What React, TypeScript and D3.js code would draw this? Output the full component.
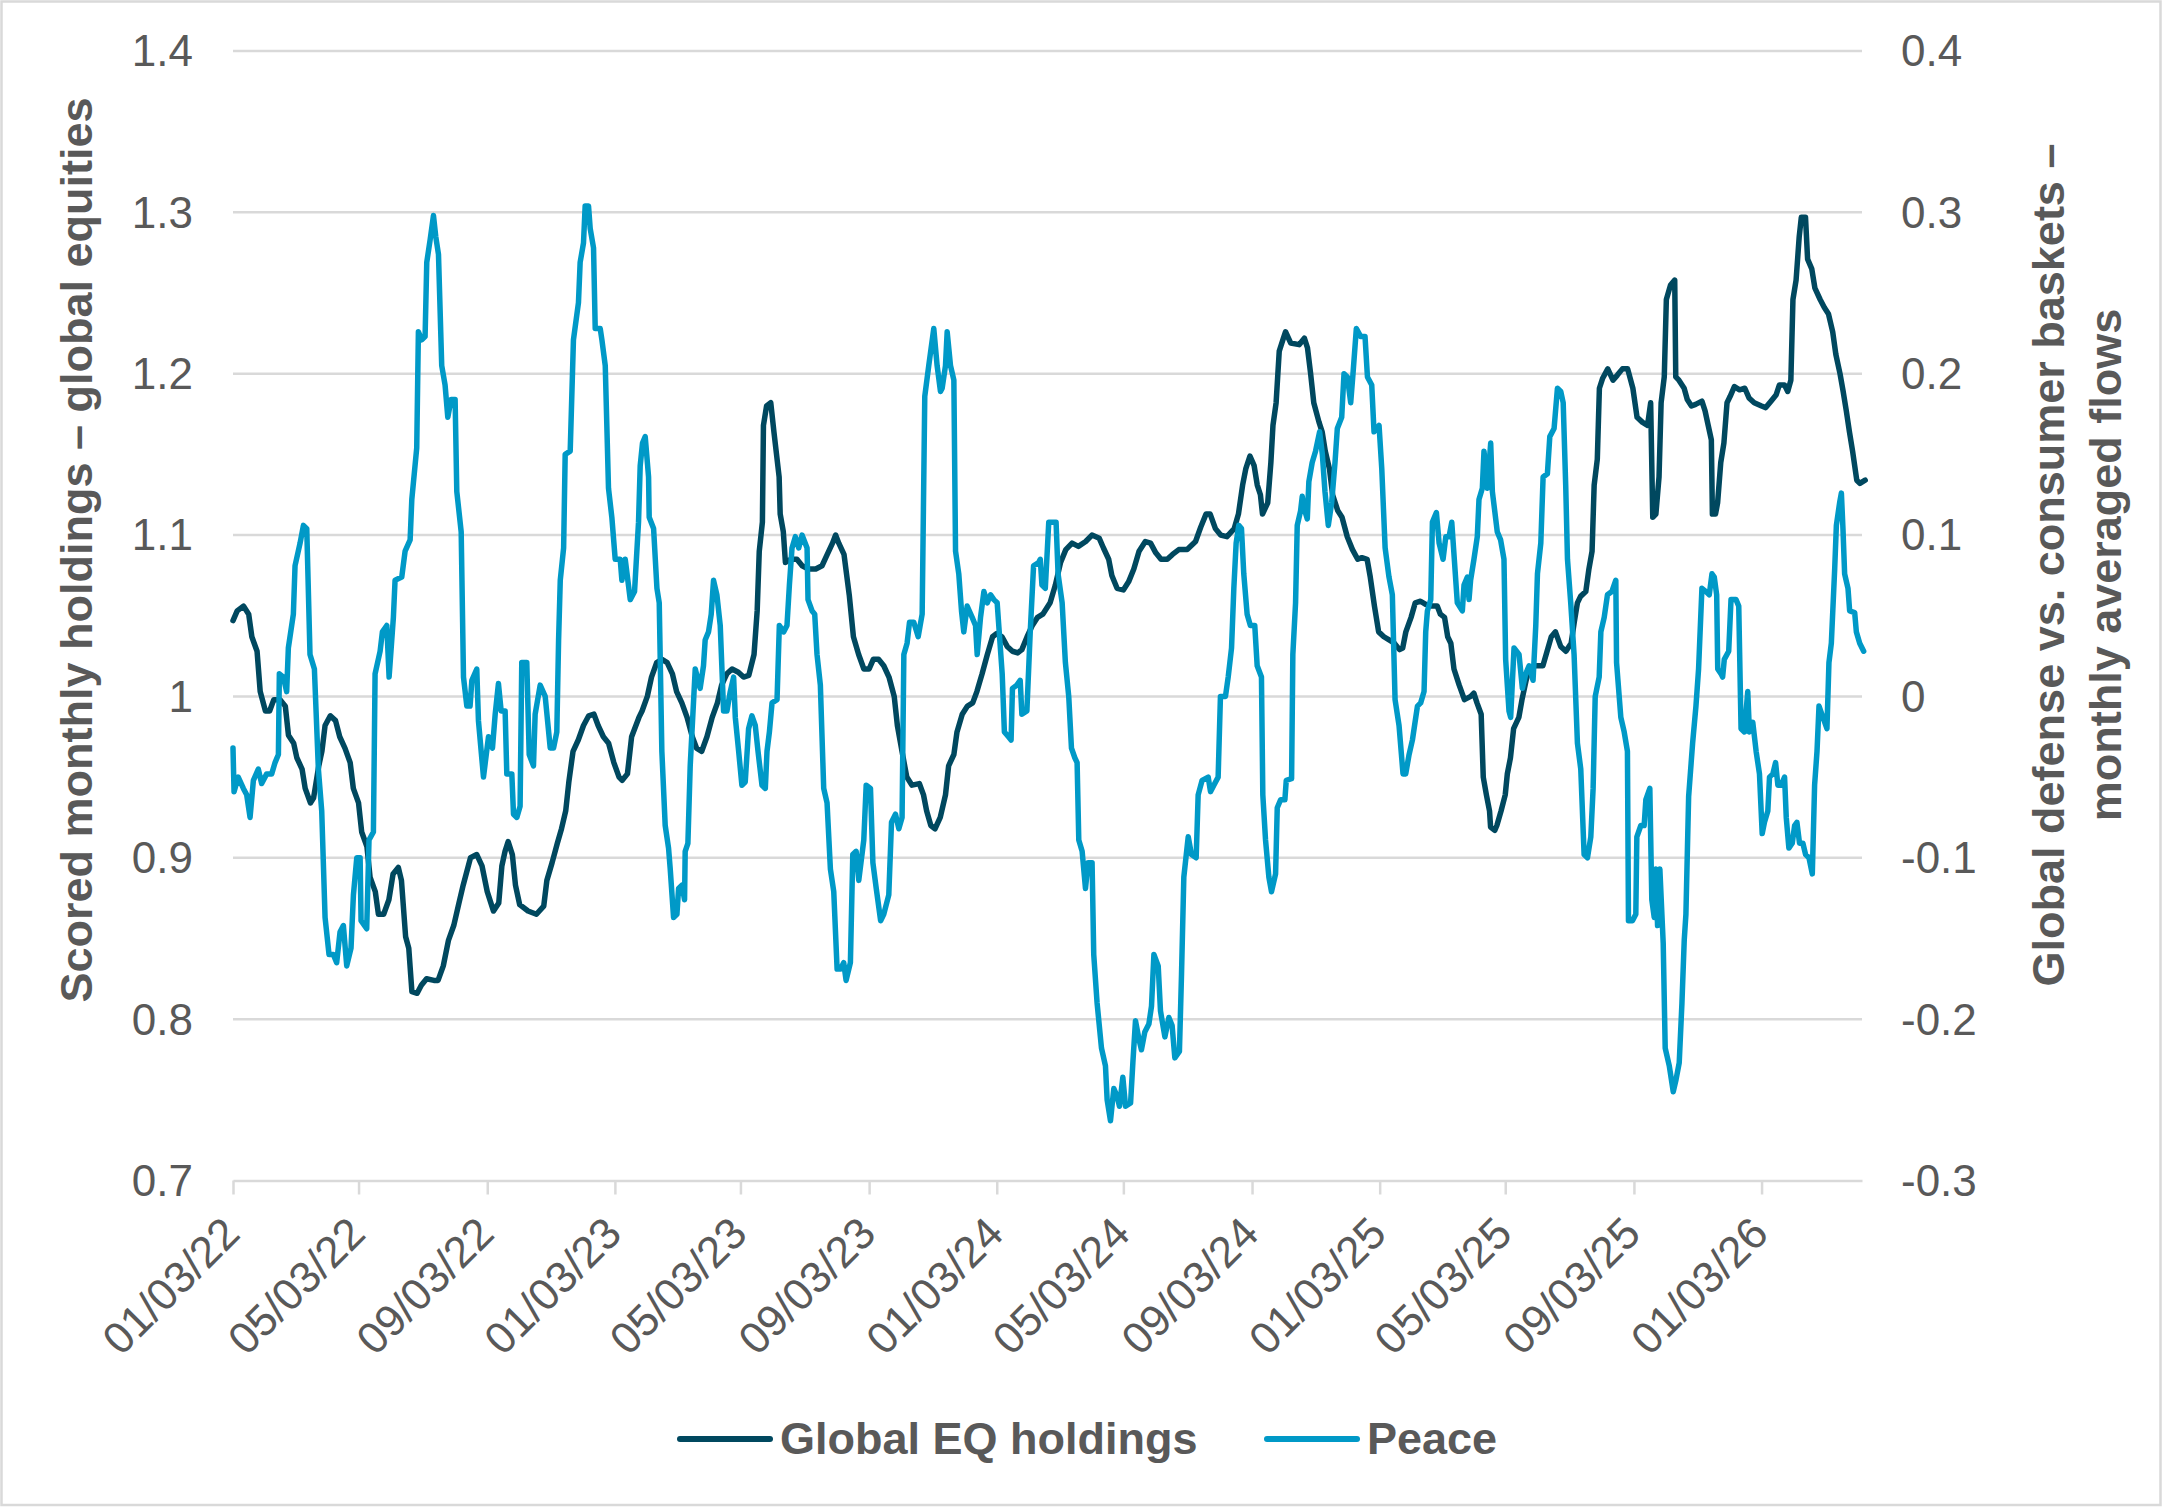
import * as d3 from "d3";
import { useEffect, useRef } from "react";

// days since 01/03/22 and value
const eqPoints: [number, number][] = [
  [0, 1.047], [4, 1.053], [10, 1.056], [15, 1.051], [18, 1.037], [23, 1.028], [26, 1.003], [31, 0.991], [35, 0.991], [39, 0.998],
  [45, 0.998], [50, 0.994], [53, 0.976], [58, 0.971], [61, 0.962], [66, 0.955], [69, 0.943], [74, 0.934], [77, 0.937], [82, 0.957],
  [85, 0.966], [88, 0.982], [93, 0.988], [98, 0.985], [102, 0.975], [107, 0.968], [112, 0.959], [115, 0.943], [120, 0.934], [123, 0.916],
  [128, 0.907], [131, 0.888], [136, 0.879], [139, 0.865], [144, 0.865], [149, 0.874], [153, 0.89], [158, 0.894], [161, 0.886], [165, 0.851],
  [168, 0.844], [171, 0.817], [176, 0.816], [180, 0.821], [185, 0.825], [192, 0.824], [196, 0.824], [201, 0.833], [206, 0.849], [211, 0.858],
  [216, 0.872], [220, 0.883], [227, 0.9], [233, 0.902], [238, 0.895], [243, 0.879], [249, 0.867], [254, 0.872], [257, 0.895], [260, 0.904],
  [263, 0.91], [267, 0.902], [270, 0.883], [274, 0.871], [282, 0.867], [290, 0.865], [297, 0.87], [300, 0.886], [305, 0.897], [310, 0.909],
  [314, 0.918], [318, 0.929], [321, 0.947], [325, 0.966], [330, 0.973], [335, 0.982], [340, 0.988], [345, 0.989], [349, 0.982], [354, 0.975],
  [359, 0.971], [364, 0.959], [369, 0.95], [372, 0.948], [377, 0.952], [381, 0.975], [388, 0.987], [391, 0.991], [396, 1.0], [400, 1.012],
  [405, 1.021], [410, 1.023], [415, 1.021], [420, 1.014], [424, 1.003], [429, 0.996], [434, 0.987], [439, 0.975], [443, 0.968], [448, 0.966],
  [453, 0.975], [458, 0.987], [463, 0.996], [467, 1.007], [472, 1.014], [477, 1.017], [483, 1.015], [488, 1.012], [493, 1.013], [498, 1.026],
  [501, 1.053], [503, 1.09], [506, 1.108], [507, 1.168], [510, 1.18], [514, 1.182], [517, 1.164], [522, 1.136], [523, 1.113], [526, 1.102],
  [528, 1.083], [533, 1.085], [539, 1.085], [544, 1.081], [550, 1.079], [557, 1.079], [563, 1.081], [568, 1.088], [573, 1.095], [576, 1.1],
  [579, 1.095], [584, 1.088], [589, 1.063], [593, 1.037], [598, 1.026], [603, 1.017], [608, 1.017], [612, 1.023], [617, 1.023], [622, 1.019],
  [627, 1.012], [632, 1.0], [635, 0.982], [640, 0.964], [644, 0.95], [649, 0.945], [656, 0.946], [660, 0.939], [663, 0.929], [667, 0.92],
  [671, 0.918], [676, 0.925], [681, 0.939], [684, 0.957], [689, 0.964], [692, 0.978], [697, 0.989], [702, 0.994], [707, 0.996], [711, 1.003],
  [716, 1.014], [721, 1.026], [726, 1.037], [730, 1.039], [735, 1.037], [740, 1.031], [745, 1.028], [750, 1.027], [754, 1.029], [759, 1.037],
  [764, 1.044], [769, 1.049], [774, 1.051], [781, 1.058], [786, 1.069], [791, 1.083], [796, 1.091], [802, 1.095], [808, 1.093], [815, 1.096],
  [821, 1.1], [828, 1.098], [832, 1.092], [837, 1.085], [840, 1.075], [845, 1.067], [851, 1.066], [856, 1.071], [861, 1.079], [866, 1.09],
  [872, 1.096], [877, 1.095], [882, 1.089], [887, 1.085], [893, 1.085], [898, 1.088], [904, 1.091], [912, 1.091], [920, 1.096], [925, 1.105],
  [930, 1.113], [934, 1.113], [939, 1.104], [944, 1.1], [950, 1.099], [957, 1.104], [961, 1.113], [965, 1.131], [968, 1.141], [972, 1.149],
  [976, 1.143], [979, 1.131], [982, 1.125], [984, 1.113], [989, 1.12], [992, 1.145], [994, 1.168], [997, 1.182], [1000, 1.214], [1004, 1.222],
  [1006, 1.226], [1011, 1.219], [1019, 1.218], [1024, 1.222], [1027, 1.216], [1030, 1.2], [1033, 1.182], [1038, 1.17], [1041, 1.164], [1044, 1.152],
  [1048, 1.141], [1051, 1.125], [1056, 1.115], [1060, 1.111], [1065, 1.099], [1070, 1.091], [1075, 1.085], [1079, 1.086], [1084, 1.085], [1087, 1.074],
  [1091, 1.056], [1095, 1.04], [1100, 1.037], [1105, 1.035], [1110, 1.033], [1115, 1.029], [1118, 1.03], [1121, 1.04], [1126, 1.049], [1130, 1.058],
  [1135, 1.059], [1140, 1.057], [1146, 1.056], [1151, 1.056], [1154, 1.051], [1158, 1.049], [1161, 1.037], [1164, 1.033], [1167, 1.017], [1172, 1.007],
  [1177, 0.998], [1183, 1.0], [1186, 1.002], [1189, 0.996], [1193, 0.989], [1195, 0.95], [1198, 0.939], [1201, 0.929], [1202, 0.919], [1206, 0.917],
  [1208, 0.92], [1212, 0.929], [1216, 0.939], [1218, 0.952], [1221, 0.962], [1224, 0.98], [1229, 0.987], [1232, 0.998], [1236, 1.01], [1239, 1.017],
  [1245, 1.019], [1252, 1.019], [1256, 1.028], [1260, 1.037], [1264, 1.04], [1269, 1.031], [1274, 1.028], [1279, 1.033], [1282, 1.046], [1285, 1.058],
  [1288, 1.062], [1293, 1.065], [1296, 1.079], [1299, 1.09], [1301, 1.131], [1304, 1.147], [1306, 1.191], [1309, 1.197], [1314, 1.203], [1319, 1.196],
  [1323, 1.199], [1328, 1.203], [1333, 1.203], [1338, 1.191], [1342, 1.173], [1347, 1.17], [1352, 1.168], [1355, 1.182], [1357, 1.111], [1360, 1.113],
  [1363, 1.136], [1365, 1.182], [1368, 1.198], [1370, 1.246], [1374, 1.255], [1378, 1.258], [1379, 1.198], [1382, 1.196], [1387, 1.191], [1390, 1.184],
  [1394, 1.18], [1398, 1.181], [1404, 1.183], [1407, 1.177], [1410, 1.168], [1413, 1.159], [1414, 1.113], [1417, 1.113], [1419, 1.12], [1422, 1.145],
  [1425, 1.157], [1428, 1.182], [1431, 1.186], [1435, 1.192], [1440, 1.19], [1445, 1.191], [1449, 1.185], [1454, 1.182], [1461, 1.18], [1465, 1.179],
  [1470, 1.183], [1475, 1.187], [1478, 1.193], [1483, 1.193], [1486, 1.189], [1489, 1.196], [1491, 1.246], [1494, 1.258], [1497, 1.285], [1499, 1.297],
  [1503, 1.297], [1505, 1.271], [1509, 1.265], [1512, 1.253], [1517, 1.246], [1521, 1.241], [1525, 1.237], [1529, 1.226], [1532, 1.212], [1536, 1.2],
  [1539, 1.189], [1542, 1.177], [1545, 1.164], [1548, 1.152], [1552, 1.134], [1555, 1.132], [1560, 1.134],
];

const peacePoints: [number, number][] = [
  [0, -0.032], [1, -0.059], [5, -0.05], [9.9, -0.057], [13.1, -0.061], [16.3, -0.075], [19.5, -0.052], [24.2, -0.045], [27.4, -0.054], [32.2, -0.048],
  [37, -0.048], [40.2, -0.041], [43.4, -0.036], [44.3, 0.014], [48.1, 0.012], [51.3, 0.003], [52.9, 0.03], [57.7, 0.051], [59.3, 0.081], [64.1, 0.095],
  [67.3, 0.106], [70.5, 0.104], [73.6, 0.026], [77.8, 0.017], [81.6, -0.045], [84.8, -0.071], [88, -0.137], [91.8, -0.16], [96, -0.16], [99.1, -0.165],
  [102.3, -0.146], [105.5, -0.142], [108.7, -0.167], [112.8, -0.156], [115.1, -0.123], [118.3, -0.1], [121.5, -0.1], [122.4, -0.139], [127.8, -0.144], [130, -0.089],
  [134.2, -0.084], [135.8, 0.014], [140.6, 0.028], [142.8, 0.04], [147, 0.044], [149.2, 0.012], [153.3, 0.049], [154.9, 0.072], [161.3, 0.074], [164.5, 0.09],
  [169.3, 0.097], [170.9, 0.122], [175.6, 0.154], [177.2, 0.226], [180.4, 0.221], [183.6, 0.223], [185.2, 0.269], [188.4, 0.283], [191.6, 0.298], [193.8, 0.285],
  [196.4, 0.274], [199.5, 0.205], [202.7, 0.193], [205.3, 0.173], [208.5, 0.184], [212.3, 0.184], [213.9, 0.127], [218.1, 0.102], [220.3, 0.012], [223.5, -0.006],
  [226.6, -0.006], [228.3, 0.01], [233, 0.017], [234.6, -0.015], [239.4, -0.05], [244.2, -0.025], [248, -0.032], [250.6, -0.011], [253.7, 0.008], [256.3, -0.009],
  [260.1, -0.009], [261.7, -0.048], [266.5, -0.048], [268.1, -0.073], [271.3, -0.075], [274.4, -0.068], [276, 0.021], [280.8, 0.021], [283.1, -0.036], [287.2, -0.043],
  [288.8, -0.011], [293.6, 0.007], [298.4, 0.0], [303.2, -0.032], [306.4, -0.032], [309.5, -0.022], [311.2, 0.035], [312.8, 0.072], [316, 0.092], [317.5, 0.15],
  [322.3, 0.152], [325.4, 0.221], [330.2, 0.244], [331.8, 0.269], [335, 0.281], [336.6, 0.304], [339.8, 0.304], [341.4, 0.29], [344.6, 0.278], [346.2, 0.228],
  [351, 0.228], [352.6, 0.221], [355.8, 0.205], [358.9, 0.129], [362.1, 0.111], [365.3, 0.085], [370.1, 0.085], [371.7, 0.072], [374.9, 0.085], [379.7, 0.06],
  [383.8, 0.065], [387.6, 0.108], [389.2, 0.143], [391.4, 0.157], [394, 0.161], [397.2, 0.136], [397.8, 0.111], [402, 0.104], [405.2, 0.067], [407.4, 0.058],
  [409.9, -0.034], [413.1, -0.08], [416.3, -0.094], [417.9, -0.107], [421.1, -0.137], [424.3, -0.135], [425.9, -0.119], [429.1, -0.117], [431.6, -0.126], [432.2, -0.096],
  [434.8, -0.091], [437, -0.043], [441.8, 0.017], [446.5, 0.005], [449.7, 0.019], [451.3, 0.035], [454.5, 0.04], [457.1, 0.051], [459.3, 0.072], [462.5, 0.063],
  [465.7, 0.044], [468.9, -0.009], [472.1, -0.009], [475.3, 0.003], [478.5, 0.012], [480.1, -0.013], [483.3, -0.034], [486.4, -0.055], [489.6, -0.053], [492.8, -0.02],
  [496, -0.012], [499.2, -0.018], [501.8, -0.034], [505.6, -0.055], [508.8, -0.057], [510.4, -0.034], [512.7, -0.022], [515.2, -0.004], [520, -0.002], [522.2, 0.044],
  [526.3, 0.04], [529.5, 0.044], [531.8, 0.069], [534.3, 0.092], [537.5, 0.099], [540.7, 0.092], [543.9, 0.1], [548.7, 0.092], [549.6, 0.06], [553.5, 0.053],
  [556, 0.051], [558.2, 0.026], [561.4, 0.007], [564.6, -0.057], [567.8, -0.066], [571, -0.107], [574.2, -0.121], [577.4, -0.169], [580.6, -0.169], [583.7, -0.165],
  [586, -0.176], [590.1, -0.165], [592.4, -0.098], [595.6, -0.096], [598.1, -0.114], [602.9, -0.089], [605.2, -0.055], [609.3, -0.057], [611.6, -0.103], [614.8, -0.119],
  [619, -0.139], [622, -0.135], [626.8, -0.123], [629.4, -0.078], [633.2, -0.073], [636.4, -0.082], [639.5, -0.075], [641.2, 0.026], [644.3, 0.033], [646.6, 0.046],
  [650.7, 0.046], [654.9, 0.037], [658.7, 0.051], [661.2, 0.186], [665, 0.205], [669.8, 0.228], [673, 0.205], [676.2, 0.189], [677.8, 0.191], [681, 0.205],
  [682.6, 0.226], [685.8, 0.205], [689, 0.196], [690.6, 0.09], [693.7, 0.076], [696.3, 0.053], [698.5, 0.04], [701.7, 0.056], [706.5, 0.049], [709.7, 0.044],
  [711.3, 0.026], [714.5, 0.049], [717.7, 0.065], [720.9, 0.058], [724.1, 0.063], [727.2, 0.06], [730.4, 0.058], [735.2, 0.014], [737.3, -0.022], [741.2, -0.025],
  [743.7, -0.027], [745, 0.005], [749.2, 0.007], [752.4, 0.01], [754, -0.011], [758.8, -0.009], [762, 0.04], [765.2, 0.081], [770, 0.083], [771.6, 0.085],
  [773.2, 0.069], [776.4, 0.067], [779.7, 0.108], [786.7, 0.108], [788.6, 0.076], [792.5, 0.058], [795.6, 0.021], [798.8, 0.0], [801.4, -0.032], [804.6, -0.038],
  [806.8, -0.041], [808.4, -0.089], [811.6, -0.096], [814.8, -0.119], [817.3, -0.103], [821.1, -0.103], [822.7, -0.16], [825.9, -0.19], [830.1, -0.218], [833.9, -0.229],
  [835.5, -0.25], [838.7, -0.263], [841.9, -0.243], [845.1, -0.248], [847.3, -0.254], [850.5, -0.236], [853.1, -0.254], [857.9, -0.252], [860.1, -0.227], [862.6, -0.201],
  [865.8, -0.212], [868.3, -0.219], [871.5, -0.208], [875.4, -0.203], [877.9, -0.192], [880.2, -0.16], [884.3, -0.167], [886.5, -0.195], [890.7, -0.211], [894.5, -0.199],
  [897.6, -0.204], [900.2, -0.224], [904.6, -0.22], [906.6, -0.172], [908.8, -0.112], [913, -0.087], [916.1, -0.098], [920.6, -0.1], [922.5, -0.061], [926.3, -0.052],
  [932.1, -0.05], [934.3, -0.059], [937.5, -0.055], [941.6, -0.05], [943.8, 0.0], [948.6, 0.0], [951.2, 0.012], [954.4, 0.03], [956.6, 0.067], [958.8, 0.095],
  [961.3, 0.106], [963.9, 0.104], [966.1, 0.076], [969.3, 0.051], [972.4, 0.044], [976.6, 0.044], [978.9, 0.019], [983, 0.012], [984.3, -0.061], [986.9, -0.089],
  [990.1, -0.112], [992.6, -0.121], [996.5, -0.11], [998.1, -0.069], [1001.3, -0.064], [1005.4, -0.064], [1006.7, -0.052], [1011.8, -0.051], [1013, 0.026], [1015.6, 0.058],
  [1017.2, 0.106], [1020.4, 0.115], [1022, 0.124], [1023.6, 0.117], [1026.8, 0.11], [1028.3, 0.133], [1031.5, 0.145], [1034.7, 0.152], [1038.6, 0.164], [1041.2, 0.15],
  [1043.7, 0.127], [1046.9, 0.106], [1050.1, 0.12], [1053.3, 0.145], [1055.5, 0.166], [1059.7, 0.173], [1061.9, 0.2], [1065.1, 0.198], [1068.3, 0.182], [1070.5, 0.2],
  [1073.7, 0.228], [1077.9, 0.223], [1082, 0.223], [1084.3, 0.198], [1088.4, 0.193], [1090.6, 0.164], [1095.4, 0.168], [1098, 0.141], [1101.2, 0.092], [1104.9, 0.074],
  [1108.1, 0.063], [1110.7, -0.002], [1114.5, -0.018], [1118.3, -0.048], [1120.9, -0.048], [1124.1, -0.036], [1127.3, -0.027], [1129.8, -0.016], [1132.1, -0.006], [1135.2, -0.004],
  [1138.4, 0.003], [1140, 0.04], [1141.6, 0.053], [1144.8, 0.06], [1146.4, 0.108], [1150.2, 0.114], [1152.8, 0.095], [1156.6, 0.085], [1159.2, 0.099], [1162.3, 0.099],
  [1164.9, 0.108], [1170.2, 0.058], [1175, 0.053], [1176.6, 0.069], [1179.8, 0.074], [1181.4, 0.06], [1182.9, 0.072], [1186.1, 0.085], [1189.3, 0.099], [1190.9, 0.122],
  [1194.1, 0.129], [1195.7, 0.152], [1198.9, 0.129], [1202.1, 0.157], [1203.7, 0.127], [1208.4, 0.102], [1211.6, 0.097], [1214.8, 0.085], [1216.4, 0.023], [1219.6, -0.009],
  [1221.2, -0.013], [1224.4, 0.03], [1229.2, 0.026], [1232.4, 0.005], [1235.6, 0.014], [1238.8, 0.019], [1242.6, 0.01], [1245.2, 0.044], [1246.8, 0.076], [1250, 0.095],
  [1252.2, 0.136], [1256.3, 0.138], [1258.6, 0.161], [1262.7, 0.166], [1265.9, 0.191], [1269.1, 0.189], [1271.4, 0.182], [1273.8, 0.131], [1275.5, 0.085], [1278.6, 0.058],
  [1281.8, 0.026], [1285, -0.029], [1288.2, -0.045], [1291.4, -0.098], [1294.6, -0.1], [1297.8, -0.087], [1300, -0.057], [1302, 0.0], [1305.8, 0.012], [1307.4, 0.04],
  [1310.6, 0.049], [1313.7, 0.063], [1317.9, 0.065], [1321.7, 0.072], [1322.4, 0.021], [1326.5, -0.013], [1329.7, -0.022], [1332.8, -0.034], [1333.8, -0.139], [1337.6, -0.139],
  [1340.8, -0.135], [1341.8, -0.087], [1345.6, -0.08], [1348.8, -0.08], [1350.4, -0.064], [1354.2, -0.057], [1356.1, -0.126], [1358.4, -0.137], [1360, -0.107], [1361.6, -0.142],
  [1363.8, -0.107], [1367, -0.153], [1368.9, -0.218], [1372.8, -0.229], [1376.6, -0.245], [1379.1, -0.238], [1382.3, -0.227], [1384.9, -0.19], [1387.1, -0.151], [1388.7, -0.135],
  [1391.3, -0.062], [1395.1, -0.029], [1398.3, -0.006], [1400.8, 0.017], [1404, 0.067], [1407.8, 0.065], [1411, 0.063], [1413.6, 0.076], [1415.8, 0.074], [1418.1, 0.063],
  [1419.1, 0.017], [1422.3, 0.014], [1423.8, 0.012], [1425.4, 0.023], [1429.6, 0.028], [1431.8, 0.06], [1436.6, 0.06], [1439.2, 0.056], [1441.4, -0.02], [1444.6, -0.022],
  [1447.8, 0.003], [1449.4, -0.022], [1452.6, -0.016], [1455.8, -0.034], [1459, -0.048], [1461.6, -0.085], [1463.8, -0.078], [1467, -0.071], [1468.6, -0.05], [1471.8, -0.048],
  [1474.4, -0.041], [1476.6, -0.055], [1479.8, -0.055], [1483, -0.05], [1484.6, -0.075], [1487.1, -0.094], [1490.3, -0.091], [1492.6, -0.08], [1494.8, -0.078], [1497.3, -0.091],
  [1500.5, -0.091], [1503.1, -0.098], [1506.3, -0.1], [1509.5, -0.11], [1511.7, -0.055], [1514, -0.034], [1515.9, -0.006], [1519.7, -0.013], [1523.5, -0.02], [1525.4, 0.021],
  [1527.7, 0.033], [1530.9, 0.079], [1532.5, 0.106], [1535.6, 0.12], [1537.3, 0.126], [1538.8, 0.104], [1540.4, 0.076], [1543.6, 0.067], [1545.2, 0.053], [1550, 0.052],
  [1551.6, 0.04], [1554.8, 0.033], [1558.6, 0.028],
];

const axisStart = "01/03/22";
const axisEnd = "04/09/26";
const tickLabels = [
  "01/03/22", "05/03/22", "09/03/22", "01/03/23", "05/03/23", "09/03/23", "01/03/24",
  "05/03/24", "09/03/24", "01/03/25", "05/03/25", "09/03/25", "01/03/26",
];
const leftTicks = [0.7, 0.8, 0.9, 1, 1.1, 1.2, 1.3, 1.4];
const rightTicks = [-0.3, -0.2, -0.1, 0, 0.1, 0.2, 0.3, 0.4];
const seriesNames = ["Global EQ holdings", "Peace"];
const leftTitle = "Scored monthly holdings – global equities";
const rightTitle = ["Global defense vs. consumer baskets –", "monthly averaged flows"];

const W = 2162;
const H = 1507;
const DARK = "#00485f";
const LIGHT = "#0099c7";
const TEXT = "#595959";
const GRID = "#d9d9d9";
const FONT = "'Liberation Sans', Arial, sans-serif";

const App = () => {
  const ref = useRef<SVGSVGElement | null>(null);

  useEffect(() => {
    const svg = d3.select(ref.current);
    svg.selectAll("*").remove();

    const parse = d3.utcParse("%m/%d/%y");
    const start = parse(axisStart) as Date;
    const toDate = (d: number) => new Date(start.getTime() + d * 86400000);

    const plot = { left: 233, right: 1862, top: 51, bottom: 1180.5 };

    const x = d3
      .scaleUtc()
      .domain([start, parse(axisEnd) as Date])
      .range([plot.left, plot.right]);
    const yL = d3.scaleLinear().domain([0.7, 1.4]).range([plot.bottom, plot.top]);
    const yR = d3.scaleLinear().domain([-0.3, 0.4]).range([plot.bottom, plot.top]);

    svg
      .append("rect")
      .attr("x", 1.5)
      .attr("y", 1.5)
      .attr("width", W - 3)
      .attr("height", H - 3.5)
      .attr("fill", "#fff")
      .attr("stroke", GRID)
      .attr("stroke-width", 2.5);

    // gridlines
    svg
      .append("g")
      .selectAll("line")
      .data(leftTicks.slice(1))
      .join("line")
      .attr("x1", plot.left)
      .attr("x2", plot.right)
      .attr("y1", (d) => yL(d))
      .attr("y2", (d) => yL(d))
      .attr("stroke", GRID)
      .attr("stroke-width", 2.5);

    // x axis
    const tickDates = tickLabels.map((t) => parse(t) as Date);
    const xAxis = svg
      .append("g")
      .attr("transform", `translate(0, ${plot.bottom})`)
      .call(
        d3
          .axisBottom(x)
          .tickValues(tickDates)
          .tickSize(14)
          .tickSizeOuter(0)
          .tickFormat(() => "")
      );
    xAxis.select(".domain").attr("stroke", GRID).attr("stroke-width", 2.5);
    xAxis.selectAll(".tick line").attr("stroke", GRID).attr("stroke-width", 2.5);

    svg
      .append("g")
      .selectAll("text")
      .data(tickLabels)
      .join("text")
      .attr("transform", (d) => `translate(${x(parse(d) as Date) + 9}, 1236) rotate(-45)`)
      .attr("text-anchor", "end")
      .attr("font-family", FONT)
      .attr("font-size", 44)
      .attr("fill", TEXT)
      .text((d) => d);

    const fmt = (v: number) => String(+v.toFixed(1));

    svg
      .append("g")
      .selectAll("text")
      .data(leftTicks)
      .join("text")
      .attr("x", 193)
      .attr("y", (d) => yL(d))
      .attr("dy", "0.35em")
      .attr("text-anchor", "end")
      .attr("font-family", FONT)
      .attr("font-size", 44)
      .attr("fill", TEXT)
      .text((d) => fmt(d));

    svg
      .append("g")
      .selectAll("text")
      .data(rightTicks)
      .join("text")
      .attr("x", 1901)
      .attr("y", (d) => yR(d))
      .attr("dy", "0.35em")
      .attr("text-anchor", "start")
      .attr("font-family", FONT)
      .attr("font-size", 44)
      .attr("fill", TEXT)
      .text((d) => fmt(d));

    // axis titles
    svg
      .append("text")
      .attr("transform", "translate(92, 550) rotate(-90)")
      .attr("text-anchor", "middle")
      .attr("font-family", FONT)
      .attr("font-size", 45)
      .attr("font-weight", "bold")
      .attr("fill", TEXT)
      .text(leftTitle);

    svg
      .append("g")
      .selectAll("text")
      .data(rightTitle)
      .join("text")
      .attr("transform", (_, i) => `translate(${2064 + i * 57}, 565) rotate(-90)`)
      .attr("text-anchor", "middle")
      .attr("font-family", FONT)
      .attr("font-size", 45)
      .attr("font-weight", "bold")
      .attr("fill", TEXT)
      .text((d) => d);

    // series
    const eqLine = d3
      .line<[number, number]>()
      .x((d) => x(toDate(d[0])))
      .y((d) => yL(d[1]));
    const peaceLine = d3
      .line<[number, number]>()
      .x((d) => x(toDate(d[0])))
      .y((d) => yR(d[1]));

    svg
      .append("path")
      .datum(eqPoints)
      .attr("fill", "none")
      .attr("stroke", DARK)
      .attr("stroke-width", 5.5)
      .attr("stroke-linejoin", "round")
      .attr("stroke-linecap", "round")
      .attr("d", eqLine);

    svg
      .append("path")
      .datum(peacePoints)
      .attr("fill", "none")
      .attr("stroke", LIGHT)
      .attr("stroke-width", 5.5)
      .attr("stroke-linejoin", "round")
      .attr("stroke-linecap", "round")
      .attr("d", peaceLine);

    // legend
    const legend = [
      { name: seriesNames[0], color: DARK, x: 680 },
      { name: seriesNames[1], color: LIGHT, x: 1267 },
    ];
    const lg = svg
      .append("g")
      .selectAll("g")
      .data(legend)
      .join("g")
      .attr("transform", (d) => `translate(${d.x}, 1439)`);
    lg.append("line")
      .attr("x1", 0)
      .attr("x2", 90)
      .attr("stroke", (d) => d.color)
      .attr("stroke-width", 6)
      .attr("stroke-linecap", "round");
    lg.append("text")
      .attr("x", 100)
      .attr("y", 15)
      .attr("font-family", FONT)
      .attr("font-size", 45)
      .attr("font-weight", "bold")
      .attr("fill", TEXT)
      .text((d) => d.name);
  }, []);

  return (
    <svg
      ref={ref}
      width={W}
      height={H}
      style={{ position: "absolute", left: 0, top: 0, display: "block" }}
    ></svg>
  );
};

export default App;
